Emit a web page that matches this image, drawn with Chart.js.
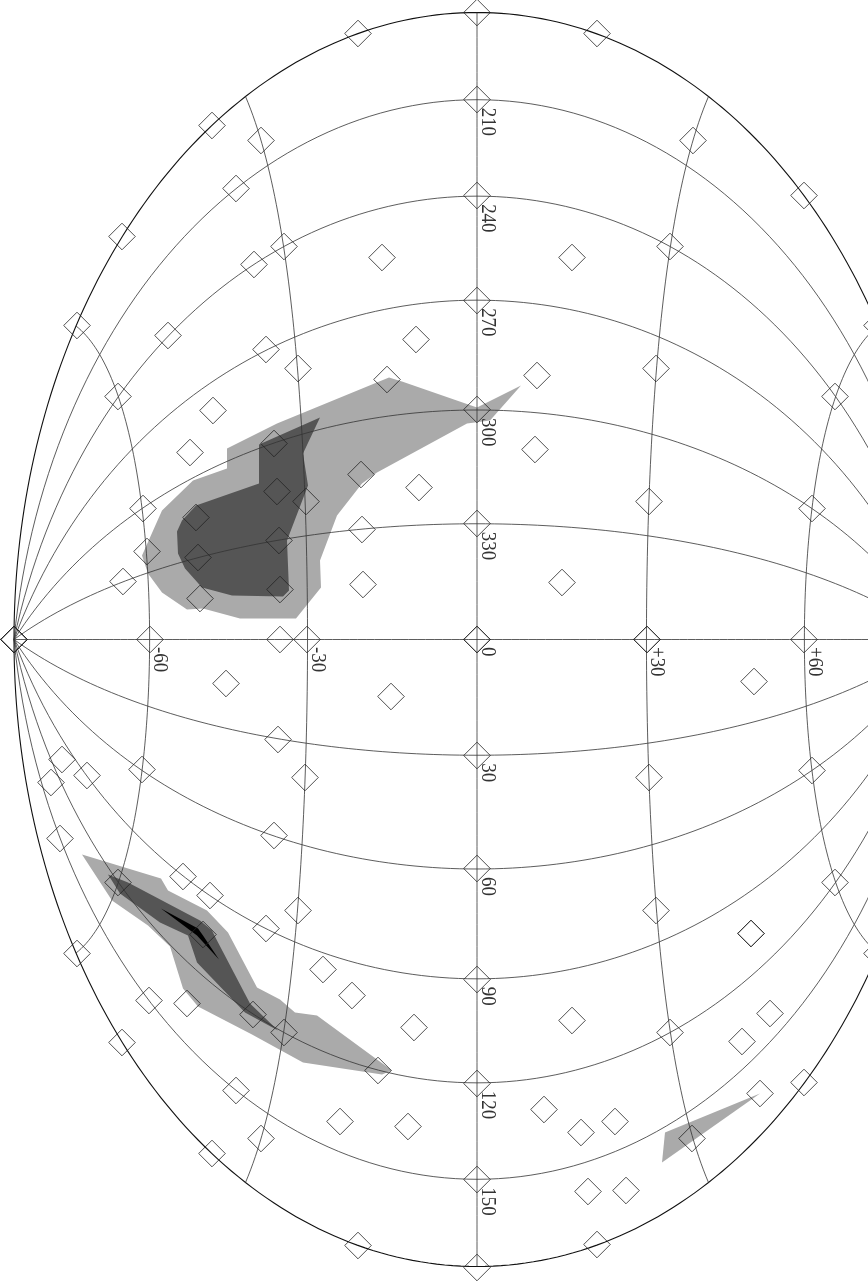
<!DOCTYPE html>
<html><head><meta charset="utf-8">
<style>html,body{margin:0;padding:0;background:#fff}canvas{display:block}</style>
<script src="https://cdn.jsdelivr.net/npm/chart.js@4"></script></head>
<body><canvas id="c" width="868" height="1281"></canvas>
<script>
// Map-plane coordinates (Hammer-Aitoff plane, origin at galactic centre)
const markerX=[0,120,-119,-265,-355,-400,327,-216,216,0,-241,0,-193,193,-223,-95,95,0,-61,-309,-211,-179,179,400,60,-90,-359,358,-264,0,58,-287,-203,-116,-58,-200,-171,172,335,-334,-281,0,-115,-198,-279,-330,-354,-114,85,-197,-277,
-463,-463,-463,-463,-327,-197,-170,0,0,170,170,327,
-251,-86,277,-199,0,-335,-172,172,335,-415,-390,-426,-417,-203,0,358,-359,-294,-267,-179,179,-211,-274,274,274,400,-400,0,-154,-125,-328,-290,95,-63,-224,-193,193,293,265,-355,-99,0,327,283,-241,67,138,-137,-69,104,215,-216,-265,0,111,149,120,-119,0];
const markerY=[627,606,606,514,403,314,444,499,499,540,451,444,393,393,375,382,382,339,300,304,290,271,271,314,264,260,243,243,229,230,190,187,196,165,152,148,138,138,131,131,122,116,110,99,82,88,58,55,57,50,41,
0,0,0,0,0,0,0,0,0,0,0,0,
-44,-57,-42,-100,-116,-130,-138,-138,-131,-120,-136,-143,-199,-196,-229,-243,-243,-237,-256,-271,-271,-289,-295,-294,-294,-314,-314,-340,-330,-356,-361,-364,-381,-388,-375,-393,-393,-374,-402,-403,-431,-444,-443,-454,-451,-470,-482,-482,-487,-493,-499,-499,-514,-540,-552,-551,-605,-606,-628];

const lightAX=[-88,-75,0,44,13,-10,-100,-115,-140,-157,-156,-181,-237,-274,-290,-315,-329,-335,-315,-284,-250,-250,-200];
const lightAY=[262,258,232,254,219,216,167,156,124,79,52,21,21,31,30,47,66,84,129,159,171,191,216];
const darkAX=[-157,-218,-218,-281,-295,-300,-299,-292,-275,-245,-194,-188,-190,-169,-174];
const darkAY=[222,195,156,134,119,108,86,71,52,44,43,49,99,154,186];
const lightBX=[-395,-316,-309,-270,-249,-220,-197,-182,-160,-85,-95,-174,-225,-279,-294,-307,-329,-365];
const lightBY=[-215,-239,-251,-271,-293,-348,-360,-373,-376,-431,-435,-423,-395,-367,-349,-307,-286,-261];
const darkBX=[-369,-349,-277,-265,-260,-227,-199,-232,-280,-289,-317,-357];
const darkBY=[-235,-243,-281,-291,-301,-364,-391,-373,-323,-296,-283,-254];
const blackBX=[-316,-279,-274,-258,-269,-280];
const blackBY=[-269,-289,-296,-320,-308,-296];
const lightCX=[283,188,185];
const lightCY=[-454,-493,-523];

const latLines=[-60,-30,0,30,60];
const lonLines=[-150,-120,-90,-60,-30,0,30,60,90,120,150];
const lonEdge=[-180,180];
const lonTicks=[210,240,270,300,330,30,60,90,120,150];
const latTicks=['-60','-30','0','+30','+60'];

const RX=463, RY=627, rad=Math.PI/180;
function hammer(lon,lat){
  const p=lat*rad,l=lon*rad/2,d=Math.sqrt(1+Math.cos(p)*Math.cos(l));
  return {x:RX*Math.sin(p)/d,y:-RY*Math.cos(p)*Math.sin(l)/d};
}
function steps(a,b,s){const o=[];for(let v=a;v<=b;v+=s)o.push(v);return o;}
function zip(xs,ys){return xs.map((x,i)=>({x,y:ys[i]}));}
function closed(xs,ys){const z=zip(xs,ys);z.push(z[0]);return z;}
function fillSet(xs,ys,color,order){
  return {data:closed(xs,ys),showLine:true,fill:'shape',backgroundColor:color,borderColor:'transparent',borderWidth:0,borderDash:[100000],pointRadius:0,tension:0,order};
}
function lineSet(pts,width,color){
  return {data:pts,showLine:true,fill:false,borderColor:color,borderWidth:width,borderDash:[100000],pointRadius:0,tension:0,order:1};
}
const datasets=[
  {data:zip(markerX,markerY),pointStyle:'rectRot',pointRadius:13.3,pointBorderWidth:0.8,pointBorderColor:'#222',pointBackgroundColor:'transparent',showLine:false,order:0,clip:false},
  ...latLines.map(la=>lineSet(steps(-180,180,3).map(lo=>hammer(lo,la)),0.8,'#333')),
  ...lonLines.map(lo=>lineSet(steps(-90,90,1.5).map(la=>hammer(lo,la)),0.8,'#333')),
  ...lonEdge.map(lo=>lineSet(steps(-90,90,1).map(la=>hammer(lo,la)),1.1,'#111')),
  fillSet(blackBX,blackBY,'#000',2),
  fillSet(darkAX,darkAY,'#555',3),
  fillSet(darkBX,darkBY,'#555',3),
  fillSet(lightAX,lightAY,'#aaa',4),
  fillSet(lightBX,lightBY,'#aaa',4),
  fillSet(lightCX,lightCY,'#aaa',4)
];
const tickLabels={id:'tickLabels',afterDraw(chart){
  const {ctx,scales:{x,y}}=chart;
  ctx.save();
  ctx.fillStyle='#333';ctx.font='21px "Liberation Serif"';ctx.textAlign='left';ctx.textBaseline='alphabetic';
  const put=(t,px,py)=>{ctx.save();ctx.translate(px,py);ctx.rotate(Math.PI/2);ctx.scale(0.9,1);ctx.fillText(t,0,0);ctx.restore();};
  lonTicks.forEach(t=>{const p=hammer(t>180?t-360:t,0);put(String(t),x.getPixelForValue(p.x)+4.5,y.getPixelForValue(p.y)+8);});
  latTicks.forEach(t=>{const p=hammer(0,Number(t));put(t,x.getPixelForValue(p.x)+4.5,y.getPixelForValue(p.y)+7.5);});
  ctx.restore();
}};
new Chart(document.getElementById('c'),{
  type:'scatter',
  data:{datasets},
  options:{responsive:false,animation:false,events:[],
    layout:{padding:0,autoPadding:false},
    plugins:{legend:{display:false},tooltip:{enabled:false},title:{display:false}},
    scales:{
      x:{type:'linear',display:false,min:-477,max:391},
      y:{type:'linear',display:false,min:-641.5,max:639.5}
    }
  },
  plugins:[tickLabels]
});
</script></body></html>
